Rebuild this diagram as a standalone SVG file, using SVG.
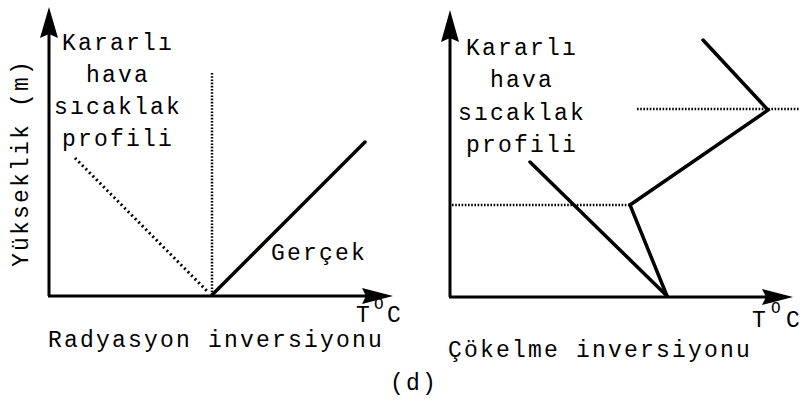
<svg xmlns="http://www.w3.org/2000/svg" width="807" height="409" viewBox="0 0 807 409">
<style>
text{font-family:"Liberation Mono","Courier New",monospace;font-size:23px;fill:#000;letter-spacing:2.2px}
.sup{font-size:16px;letter-spacing:0}
.axis{stroke:#000;stroke-width:3;fill:none}
.solid{stroke:#000;stroke-width:3.5;fill:none;stroke-linejoin:miter;stroke-linecap:round}
.dot{stroke:#000;stroke-width:2.5;fill:none;stroke-dasharray:1.6 1.6}
.dot2{stroke:#000;stroke-width:3;fill:none;stroke-dasharray:2 3}
.head{fill:#000}
</style>
<rect width="807" height="409" fill="#fff"/>
<g id="chart-left">
  <g id="left-axes">
    <line class="axis" x1="49" y1="296" x2="49" y2="30"/>
    <polygon class="head" points="49,7 58,38 49,34 40,38"/>
    <line class="axis" x1="48" y1="296" x2="370" y2="296"/>
    <polygon class="head" points="393,296 362,304 366,296 362,288"/>
  </g>
  <g id="left-lines">
    <line class="dot" x1="212" y1="73" x2="212" y2="294"/>
    <line class="dot2" x1="75" y1="158" x2="208" y2="292"/>
    <line class="solid" x1="212" y1="295" x2="365" y2="142"/>
  </g>
  <g id="left-texts">
    <text x="62" y="50">Kararlı</text>
    <text x="86" y="82">hava</text>
    <text x="54" y="114">sıcaklak</text>
    <text x="62" y="146">profili</text>
    <text x="271" y="260">Gerçek</text>
    <text x="28" y="163" transform="rotate(-90 28 163)" text-anchor="middle">Yükseklik (m)</text>
    <text x="356" y="322">T</text>
    <text class="sup" x="374" y="309">O</text>
    <text x="387" y="322">C</text>
    <text x="48" y="347">Radyasyon inversiyonu</text>
  </g>
</g>
<g id="chart-right">
  <g id="right-axes">
    <line class="axis" x1="450" y1="297" x2="450" y2="32"/>
    <polygon class="head" points="450,10 459,42 450,38 441,42"/>
    <line class="axis" x1="449" y1="297" x2="770" y2="297"/>
    <polygon class="head" points="793,297 762,305 766,297 762,289"/>
  </g>
  <g id="right-lines">
    <line class="dot" x1="452" y1="205" x2="630" y2="205"/>
    <line class="dot" x1="637" y1="109" x2="800" y2="109"/>
    <line class="solid" x1="530" y1="162" x2="667" y2="296"/>
    <polyline class="solid" points="667,296 630,205 768,110 703,40"/>
  </g>
  <g id="right-texts">
    <text x="466" y="55">Kararlı</text>
    <text x="490" y="87">hava</text>
    <text x="458" y="120">sıcaklak</text>
    <text x="466" y="152">profili</text>
    <text x="752" y="327">T</text>
    <text class="sup" x="771" y="313">O</text>
    <text x="786" y="327">C</text>
    <text x="448" y="357">Çökelme inversiyonu</text>
  </g>
</g>
<g id="caption">
  <text x="390" y="390">(d)</text>
</g>
</svg>
